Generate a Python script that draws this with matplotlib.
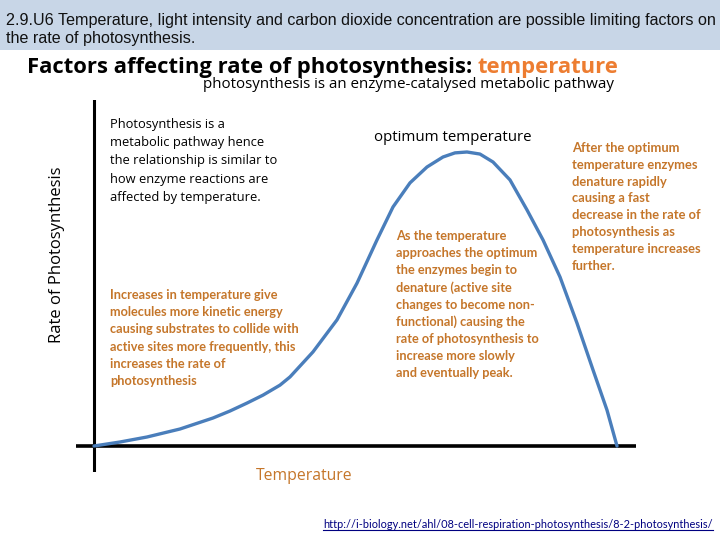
import matplotlib.pyplot as plt
from matplotlib.lines import Line2D
from matplotlib.patches import Rectangle

# curve (temperature vs rate, arbitrary units 0-100)
temperature = [0, 4.97, 10.13, 16.44, 22.75, 26.0, 29.25, 32.31, 35.56, 37.48, 41.87, 46.46,
               50.29, 54.11, 57.17, 60.42, 63.67, 66.73, 69.02, 71.32, 73.8, 76.29, 79.54,
               82.79, 85.85, 89.10, 92.35, 95.41, 98.09, 100]
rate = [0, 1.36, 3.06, 5.78, 9.52, 11.9, 14.6, 17.3, 20.7, 23.5, 32.0, 42.9,
        55.4, 70.1, 81.3, 89.5, 94.9, 98.3, 99.7, 100, 99.3, 96.6, 90.5,
        80.3, 70.1, 57.5, 41.8, 25.9, 12.2, 0]

header = ("2.9.U6 Temperature, light intensity and carbon dioxide concentration are possible limiting factors on\n"
          "the rate of photosynthesis.")
title_a = "Factors affecting rate of photosynthesis: "
title_b = "temperature"
subtitle = "photosynthesis is an enzyme-catalysed metabolic pathway"
note_black = ("Photosynthesis is a\nmetabolic pathway hence\nthe relationship is similar to\n"
              "how enzyme reactions are\naffected by temperature.")
note_rise = ("Increases in temperature give\nmolecules more kinetic energy\ncausing substrates to collide with\n"
             "active sites more frequently, this\nincreases the rate of\nphotosynthesis")
note_peak = ("As the temperature\napproaches the optimum\nthe enzymes begin to\ndenature (active site\n"
             "changes to become non-\nfunctional) causing the\nrate of photosynthesis to\n"
             "increase more slowly\nand eventually peak.")
note_fall = ("After the optimum\ntemperature enzymes\ndenature rapidly\ncausing a fast\n"
             "decrease in the rate of\nphotosynthesis as\ntemperature increases\nfurther.")
url = "http://i-biology.net/ahl/08-cell-respiration-photosynthesis/8-2-photosynthesis/"

orange = '#c5762a'
W, H = 720, 540

fig = plt.figure(figsize=(7.2, 5.4), dpi=100)
fig.patch.set_facecolor('white')

def fx(px):
    return px / W

def fy(py):
    return 1 - py / H

# header band
fig.add_artist(Rectangle((0, fy(50)), 1, 50 / H, transform=fig.transFigure,
                         facecolor='#c8d6e7', edgecolor='none', zorder=0))
fig.text(fx(6), fy(13), header, ha='left', va='top', fontsize=11.6,
         family='Liberation Sans', linespacing=1.22, color='#111111')

# title
t1 = fig.text(fx(27), fy(67), title_a, ha='left', va='center', fontsize=15.8,
              family='Open Sans', weight='bold', color='black')
r = fig.canvas.get_renderer()
bb = t1.get_window_extent(r)
fig.text(bb.x1 / W, fy(67), title_b, ha='left', va='center', fontsize=15.8,
         family='Open Sans', weight='bold', color='#ed7d31')
fig.text(fx(614), fy(85), subtitle, ha='right', va='center', fontsize=10.9,
         family='Open Sans', color='black')

# plot area: axes box spans px 76..636 horizontally, 100..472 vertically
ax = fig.add_axes([fx(76), fy(472), 560 / W, 372 / H])
ax.set_xlim(-18 / 5.23, 542 / 5.23)
ax.set_ylim(-26 / 2.94, 346 / 2.94)
ax.axis('off')
ax.axhline(0, color='black', lw=2.6, zorder=1)
ax.axvline(0, color='black', lw=2.2, zorder=1)
ax.plot(temperature, rate, color='#4a7ebb', lw=2.4, solid_capstyle='round',
        solid_joinstyle='round', zorder=2)

fig.text(fx(57), fy(255), "Rate of Photosynthesis", rotation=90, ha='center', va='center',
         fontsize=12, family='Open Sans', color='black')
fig.text(fx(256), fy(476), "Temperature", ha='left', va='center', fontsize=11.3,
         family='Open Sans', color=orange)

fig.text(fx(110), fy(118), note_black, ha='left', va='top', fontsize=9.3,
         family='Open Sans', linespacing=1.52, color='black')
fig.text(fx(374), fy(137), "optimum temperature", ha='left', va='center', fontsize=10.8,
         family='Open Sans', color='black')

narrow = ['Liberation Sans Narrow', 'Lato']
fig.text(fx(110), fy(289), note_rise, ha='left', va='top', fontsize=9.2,
         family=narrow, weight='bold', linespacing=1.52, color=orange)
fig.text(fx(396), fy(230), note_peak, ha='left', va='top', fontsize=9.2,
         family=narrow, weight='bold', linespacing=1.49, color=orange)
fig.text(fx(572), fy(142), note_fall, ha='left', va='top', fontsize=9.3,
         family=narrow, weight='bold', linespacing=1.48, color=orange)

u = fig.text(fx(713), fy(525), url, ha='right', va='center', fontsize=7.9,
             family=narrow, color='#000080')
ub = u.get_window_extent(r)
fig.add_artist(Line2D([ub.x0 / W, ub.x1 / W], [(ub.y0 + 1) / H, (ub.y0 + 1) / H],
                      transform=fig.transFigure, color='#000080', lw=0.8))

fig.savefig('out.png', dpi=100)
